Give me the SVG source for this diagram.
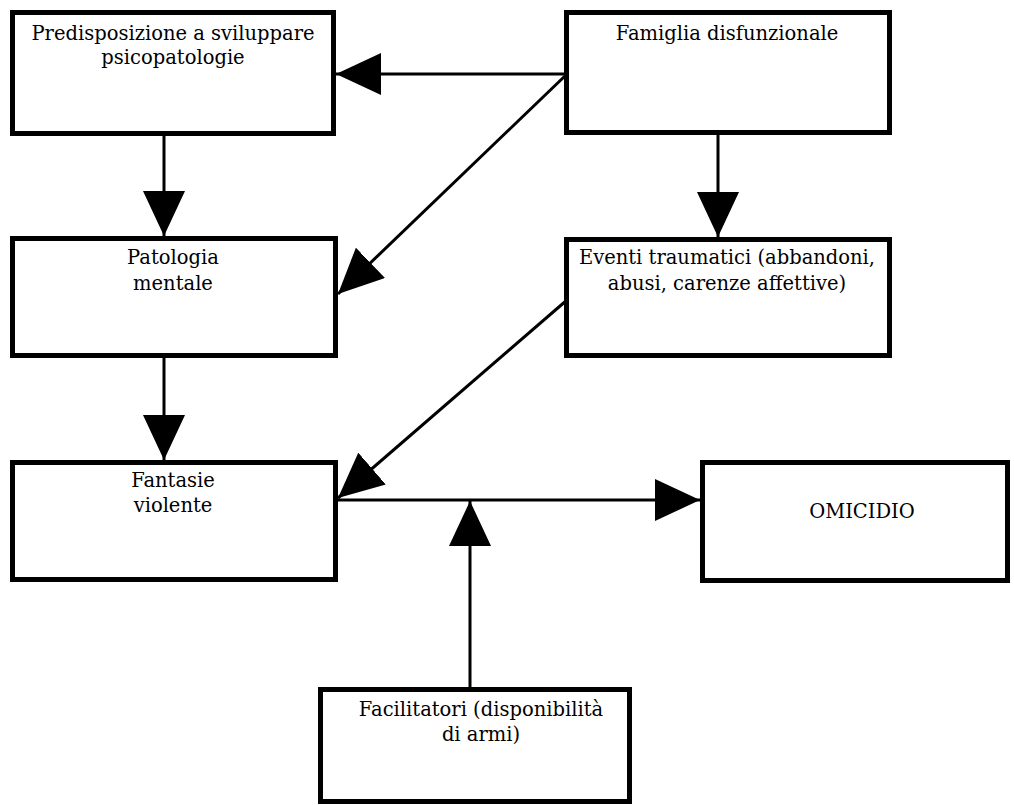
<svg xmlns="http://www.w3.org/2000/svg" width="1014" height="805" viewBox="0 0 1014 805">
<style>
.box{fill:#fff;stroke:#000;stroke-width:5}
.lbl{font-family:"DejaVu Serif","Liberation Serif",serif;font-size:19.5px;fill:#000;text-anchor:middle}
.con{stroke:#000;stroke-width:3;fill:none;marker-end:url(#ah)}
</style>
<defs>
<marker id="ah" viewBox="0 0 45 42" refX="45" refY="21" markerWidth="45" markerHeight="42" markerUnits="userSpaceOnUse" orient="auto">
<path d="M0,0 L45,21 L0,42 Z" fill="#000"/>
</marker>
</defs>
<rect width="1014" height="805" fill="#fff"/>
<g id="n-predisposizione">
<rect class="box" x="12.5" y="12.5" width="321" height="121"/>
<text class="lbl" x="173" y="40">Predisposizione a sviluppare</text>
<text class="lbl" x="173" y="64">psicopatologie</text>
</g>
<g id="n-famiglia">
<rect class="box" x="566.5" y="12.5" width="323" height="120"/>
<text class="lbl" x="727" y="40">Famiglia disfunzionale</text>
</g>
<g id="n-patologia">
<rect class="box" x="12.5" y="238.5" width="323" height="117"/>
<text class="lbl" x="173" y="264">Patologia</text>
<text class="lbl" x="173" y="290">mentale</text>
</g>
<g id="n-eventi">
<rect class="box" x="566.5" y="239.5" width="323" height="116"/>
<text class="lbl" x="727" y="264">Eventi traumatici (abbandoni,</text>
<text class="lbl" x="727" y="290">abusi, carenze affettive)</text>
</g>
<g id="n-fantasie">
<rect class="box" x="12.5" y="462.5" width="323" height="117"/>
<text class="lbl" x="173" y="487">Fantasie</text>
<text class="lbl" x="173" y="512">violente</text>
</g>
<g id="n-omicidio">
<rect class="box" x="702.5" y="462.5" width="305" height="118"/>
<text class="lbl" x="862" y="518">OMICIDIO</text>
</g>
<g id="n-facilitatori">
<rect class="box" x="320.5" y="689.5" width="309" height="112"/>
<text class="lbl" x="481" y="716">Facilitatori (disponibilità</text>
<text class="lbl" x="481" y="741">di armi)</text>
</g>
<g id="connectors">
<line class="con" x1="566" y1="74" x2="336" y2="74"/>
<line class="con" x1="566" y1="75" x2="338" y2="294"/>
<line class="con" x1="718" y1="135" x2="718" y2="237"/>
<line class="con" x1="164" y1="136" x2="164" y2="236"/>
<line class="con" x1="164" y1="358" x2="164" y2="460"/>
<line class="con" x1="567" y1="300" x2="338" y2="498"/>
<line class="con" x1="338" y1="500" x2="700" y2="500"/>
<line class="con" x1="470" y1="687" x2="470" y2="501"/>
</g>
</svg>
